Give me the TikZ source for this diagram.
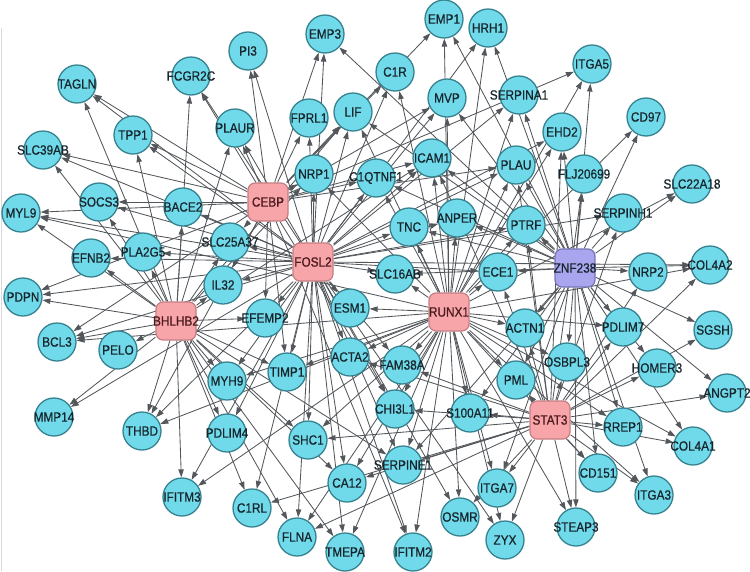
\documentclass[tikz,border=0pt]{standalone}
\usepackage{fontspec}
\newfontfamily\lab{Liberation Sans}[FakeStretch=0.88,FakeBold=0.7]
\usetikzlibrary{arrows.meta,backgrounds}
\definecolor{cyanfill}{HTML}{70DAEB}
\definecolor{cyanline}{HTML}{37828F}
\definecolor{pinkfill}{HTML}{F8A5AA}
\definecolor{pinkline}{HTML}{C47E84}
\definecolor{lavfill}{HTML}{A9A5EF}
\definecolor{lavline}{HTML}{7774B5}
\definecolor{edgec}{HTML}{53575B}
\definecolor{txt}{HTML}{17262C}
\definecolor{tftxt}{HTML}{4A1A1E}
\tikzset{
  gene/.style={circle, draw=cyanline, fill=cyanfill, line width=1.3pt, minimum size=38pt, inner sep=0pt,
    font=\lab\fontsize{13.4}{13.4}\selectfont, text=txt},
  tfbox/.style={rectangle, rounded corners=7pt, draw=pinkline, fill=pinkfill, line width=1.2pt,
    minimum width=40pt, minimum height=38pt, inner sep=0pt,
    font=\lab\fontsize{13.4}{13.4}\selectfont, text=tftxt},
  tfzbox/.style={tfbox, draw=lavline, fill=lavfill, text=txt},
  edge/.style={draw=edgec, line width=0.85pt, -{Triangle[length=8pt,width=5.4pt]}}
}
\begin{document}
\begin{tikzpicture}[x=1pt,y=-1pt]
\useasboundingbox (0,0) rectangle (750,571);
\draw[black!15, line width=0.7pt] (1,28) -- (1,571);
% transcription factors
\node[tfbox] (CEBP) at (268,202) {\makebox[0pt]{CEBP}};
\node[tfbox] (FOSL2) at (313,262) {\makebox[0pt]{FOSL2}};
\node[tfbox] (BHLHB2) at (176,321) {\makebox[0pt]{BHLHB2}};
\node[tfbox] (RUNX1) at (449,312) {\makebox[0pt]{RUNX1}};
\node[tfzbox] (ZNF238) at (575,268) {\makebox[0pt]{ZNF238}};
\node[tfbox] (STAT3) at (550,420) {\makebox[0pt]{STAT3}};
% genes
\foreach \n/\x/\y in {
 TAGLN/77/84, FCGR2C/191/76, PI3/248/51, EMP3/325/34, EMP1/444/19, HRH1/488/28,
 C1R/395/72, MVP/447/98, SERPINA1/519/95, ITGA5/592/64, CD97/646/117, EHD2/562/132,
 FLJ20699/584/174, SLC22A18/692/184, TPP1/133/135, PLAUR/235/128, FPRL1/309/118,
 LIF/353/112, SLC39AB/43/150, SOCS3/99/202, BACE2/183/207, NRP1/314/174,
 ICAM1/432/158, PLAU/516/165, MYL9/21/213, PLA2G5/143/252, SLC25A37/230/242,
 TNC/409/227, ANPER/457/218, PTRF/526/225, SERPINH1/623/213, EFNB2/91/258,
 IL32/223/285, SLC16AB/395/274, ECE1/498/272, NRP2/648/272, COL4A2/710/265,
 PDPN/23/297, EFEMP2/265/318, ESM1/350/308, ACTN1/525/328, PDLIM7/623/327,
 SGSH/713/330, BCL3/57/342, PELO/118/350, MYH9/227/381, TIMP1/287/372,
 ACTA2/350/357, FAM38A/402/365, PML/516/380, OSBPL3/567/362, HOMER3/657/368,
 ANGPT2/727/393, MMP14/54/417, THBD/142/431, PDLIM4/227/433, CHI3L1/395/409,
 S100A11/470/413, RREP1/623/427, COL4A1/693/446, SHC1/308/440, SERPINE1/403/465,
 CA12/347/483, CD151/598/473, ITGA3/654/495, ITGA7/497/488, IFITM3/182/497,
 C1RL/252/508, FLNA/297/537, TMEPA/345/552, IFITM2/413/552, OSMR/460/517,
 ZYX/505/540, STEAP3/576/527}
 \node[gene] (\n) at (\x,\y) {\makebox[0pt]{\n}};
\node[gene] (C1QTNF1) at (376,178) {\makebox[0pt]{C1QTNF1}};
% regulatory edges
\begin{scope}[on background layer]
\foreach \t in {TAGLN, FCGR2C, PI3, EMP3, EMP1, C1R, MVP, ITGA5, TPP1, PLAUR, FPRL1, LIF,
  SLC39AB, SOCS3, MYL9, PDPN, BCL3, THBD, IL32, EFEMP2, TIMP1, ICAM1, C1QTNF1, NRP1,
  PLAU, CHI3L1, IFITM2, SLC25A37}
  \draw[edge] (CEBP) -- (\t);
\foreach \t in {TAGLN, FCGR2C, PI3, EMP3, HRH1, C1R, MVP, SERPINA1, TPP1, PLAUR, FPRL1, LIF,
  SLC39AB, SOCS3, BACE2, MYL9, PLA2G5, EFNB2, SLC25A37, IL32, PDPN, BCL3, MMP14, THBD,
  MYH9, PDLIM4, IFITM3, C1RL, FLNA, TMEPA, IFITM2, CA12, SHC1, SERPINE1, CHI3L1, OSMR,
  ZYX, EHD2, SERPINH1, COL4A2, ECE1, PTRF, PLAU, ANPER, TNC, ICAM1, C1QTNF1, NRP1,
  SLC16AB, ESM1, EFEMP2, TIMP1, ACTA2, FAM38A}
  \draw[edge] (FOSL2) -- (\t);
\foreach \t in {TAGLN, FCGR2C, SLC39AB, TPP1, PLAUR, LIF, SOCS3, BACE2, MYL9, PLA2G5, EFNB2,
  SLC25A37, IL32, PDPN, BCL3, PELO, MMP14, THBD, MYH9, PDLIM4, IFITM3, C1RL, FLNA, TMEPA,
  CA12, SHC1, SERPINE1, NRP1, ICAM1, EFEMP2, TIMP1}
  \draw[edge] (BHLHB2) -- (\t);
\foreach \t in {EMP1, HRH1, C1R, MVP, SERPINA1, ITGA5, CD97, EHD2, SLC22A18, LIF, MYL9, BCL3,
  THBD, IFITM3, FLNA, TMEPA, IFITM2, CA12, SHC1, SERPINE1, CHI3L1, S100A11, OSMR, ITGA7,
  ZYX, STEAP3, CD151, ITGA3, RREP1, COL4A1, COL4A2, PDLIM7, OSBPL3, ACTN1, PML, ECE1,
  PTRF, PLAU, ANPER, TNC, ICAM1, C1QTNF1, NRP1, SLC16AB, ESM1, TIMP1, ACTA2, FAM38A, MYH9}
  \draw[edge] (RUNX1) -- (\t);
\foreach \t in {EMP3, EMP1, HRH1, MVP, SERPINA1, ITGA5, CD97, EHD2, FLJ20699, SLC22A18,
  SERPINH1, LIF, S100A11, ITGA7, STEAP3, CD151, ITGA3, RREP1, COL4A1, ANGPT2, HOMER3, SGSH,
  COL4A2, NRP2, PDLIM7, OSBPL3, ACTN1, PML, ECE1, PTRF, PLAU, ANPER, TNC, ICAM1, C1QTNF1,
  SLC16AB, SERPINE1}
  \draw[edge] (ZNF238) -- (\t);
\foreach \t in {EHD2, FLJ20699, SERPINH1, C1RL, FLNA, CA12, SHC1, SERPINE1, CHI3L1, S100A11,
  OSMR, ITGA7, ZYX, STEAP3, CD151, ITGA3, RREP1, COL4A1, ANGPT2, HOMER3, SGSH, COL4A2, NRP2,
  PDLIM7, OSBPL3, ACTN1, PML, ECE1, PTRF, PLAU, ICAM1, ACTA2, FAM38A}
  \draw[edge] (STAT3) -- (\t);
\end{scope}
\end{tikzpicture}
\end{document}
